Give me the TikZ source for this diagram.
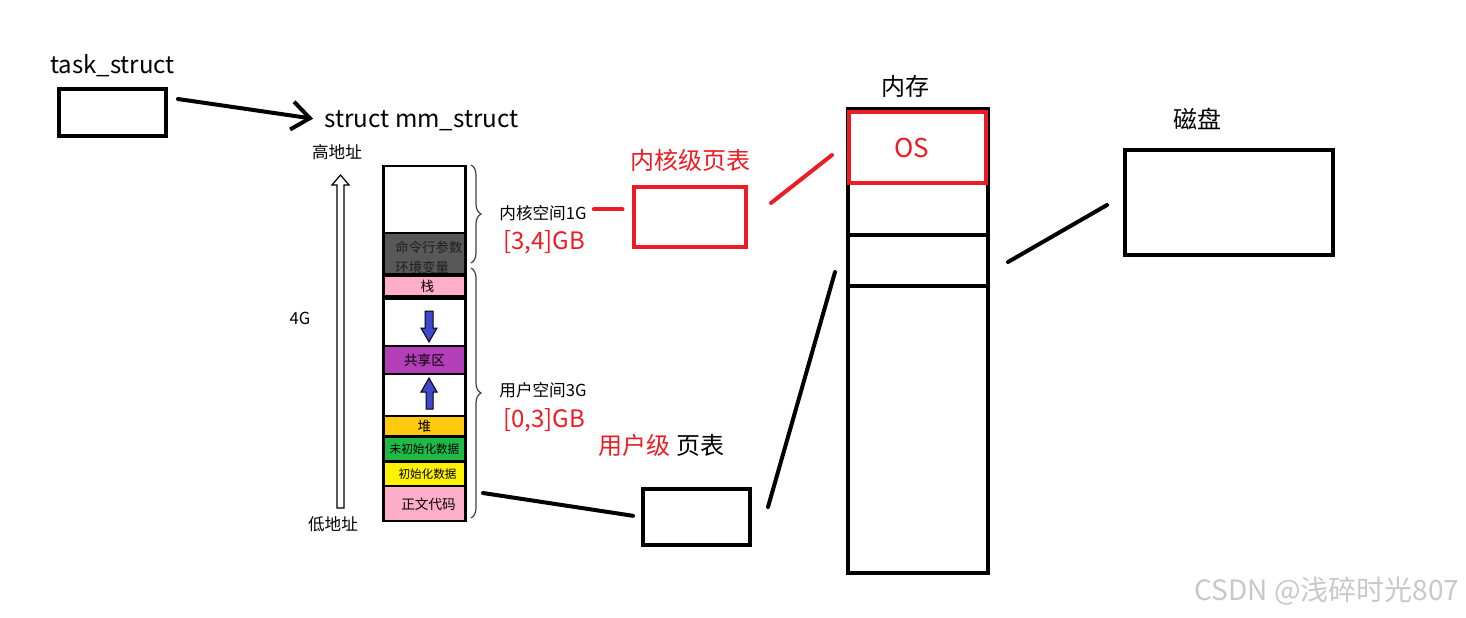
\documentclass[tikz,border=0pt]{standalone}
\usepackage{fontspec}
\setmainfont{Noto Sans CJK SC}
\usetikzlibrary{arrows.meta,positioning,decorations.pathreplacing}
\definecolor{pagered}{RGB}{237,28,36}
\definecolor{argsgray}{RGB}{88,88,88}
\definecolor{stackpink}{RGB}{255,174,201}
\definecolor{sharepurple}{RGB}{178,62,184}
\definecolor{heaporange}{RGB}{255,201,14}
\definecolor{bssgreen}{RGB}{30,185,70}
\definecolor{datayellow}{RGB}{255,242,0}
\definecolor{growblue}{RGB}{63,72,204}
\definecolor{markgray}{RGB}{200,200,200}

\begin{document}
\begin{tikzpicture}[x=0.5pt, y=-0.5pt,
  frame/.style={draw, line width=2pt, inner sep=0pt},
  redframe/.style={frame, draw=pagered},
  seg/.style={fill=#1, minimum width=39.5pt, inner sep=0pt, anchor=north,
              font=\fontsize{6.8}{7}\selectfont},
  titletext/.style={font=\fontsize{12}{14}\selectfont, inner sep=0pt},
  addrtext/.style={font=\fontsize{8.3}{10}\selectfont, inner sep=0pt},
  rangetext/.style={font=\fontsize{12}{14}\selectfont, text=pagered, inner sep=0pt},
  link/.style={line width=2pt, line cap=round},
  redlink/.style={link, draw=pagered},
  spanbrace/.style={decorate, decoration={brace, amplitude=5pt},
               draw=black!75, line width=0.6pt},
]
  \useasboundingbox (0,0) rectangle (1466,617);

  % task_struct
  \node[frame, minimum width=53.5pt, minimum height=23.5pt] (task) at (112.5,112.5) {};
  \node[titletext, above=5pt of task] (tasklabel) {task\_struct};
  \node[titletext, font=\fontsize{12.1}{14}\selectfont, anchor=base west] (mm) at (324,127) {struct mm\_struct};
  \coordinate (ptr) at (178,99);
  \draw[link, -{Straight Barb[length=9pt,width=14pt]}, shorten >=5.5pt] (ptr) -- (mm.west);

  % address direction
  \node[addrtext] (high) at (337,152) {高地址};
  \node[addrtext] (low) at (333,524) {低地址};
  \node[addrtext] (size) at (300,318) {4G};
  \draw[fill=white, line width=0.6pt] (337,508) -- (337,185) -- (332,185) -- (340.5,175)
    -- (349,185) -- (344,185) -- (344,508) -- cycle;

  % address space
  \node[fill=black, inner sep=0pt, minimum width=42.5pt, minimum height=178.5pt] (vm) at (424.5,343.5) {};
  \node[seg=white, minimum height=32.5pt] (kern) at (424.5,167) {};
  \node[seg=argsgray, minimum height=19.5pt] (args) at (424.5,234) {};
  \begin{scope}
    \clip (args.south west) rectangle (args.north east);
    \node[anchor=west, inner sep=0pt, text=black!88, font=\fontsize{6.7}{7}\selectfont] (argv) at (395,247) {命令行参数};
    \node[anchor=west, inner sep=0pt, text=black!88, font=\fontsize{6.7}{7}\selectfont] (envp) at (395,267) {环境变量};
  \end{scope}
  \node[seg=stackpink, minimum height=9pt] (stack) at (424.5,277) {\hspace*{3pt}栈};
  \node[seg=white, minimum height=22.5pt] (gapdown) at (424.5,300) {};
  \node[seg=sharepurple, minimum height=13pt] (share) at (424.5,347) {共享区};
  \node[seg=white, minimum height=20pt] (gapup) at (424.5,375) {};
  \node[seg=heaporange, minimum height=9pt] (heap) at (424.5,417) {堆};
  \node[seg=bssgreen, minimum height=11pt, font=\fontsize{5.8}{6}\selectfont] (bss) at (424.5,438) {未初始化数据};
  \node[seg=datayellow, minimum height=11pt, font=\fontsize{5.8}{6}\selectfont] (data) at (424.5,463) {\hspace*{3pt}初始化数据};
  \node[seg=stackpink, minimum height=16.5pt] (code) at (424.5,487) {\hspace*{4pt}正文代码};
  \draw[fill=growblue, line width=0.5pt] (425,311) -- (433,311) -- (433,328) -- (437,328)
    -- (429,342) -- (421,328) -- (425,328) -- cycle;
  \draw[fill=growblue, line width=0.5pt] (426,409) -- (433,409) -- (433,392) -- (437,392)
    -- (429,378) -- (421,392) -- (426,392) -- cycle;

  % kernel / user split
  \draw[spanbrace] (471,165) -- (471,263);
  \draw[spanbrace] (471,268) -- (471,518);
  \node[addrtext, anchor=west] (klabel) at (499,213) {内核空间1G};
  \node[rangetext] (krange) at (544,242) {[3,4]GB};
  \node[addrtext, anchor=west] (ulabel) at (499,390) {用户空间3G};
  \node[rangetext] (urange) at (544,420) {[0,3]GB};

  % page tables
  \node[redframe, minimum width=56pt, minimum height=30pt] (kpt) at (690,217) {};
  \node[titletext, text=pagered, above=6.5pt of kpt] (kptlabel) {内核级页表};
  \node[frame, minimum width=53.5pt, minimum height=28pt] (upt) at (696.5,517) {};
  \node[titletext, above=15pt of upt, xshift=-17.5pt] (uptlabel) {{\color{pagered}用户级} 页表};
  \coordinate (kl) at ([yshift=1.8pt]klabel.east);
  \draw[redlink, shorten <=3.5pt, shorten >=4.75pt] (kl) -- (kl -| kpt.west);
  \coordinate (codeend) at (483,493);
  \draw[link, shorten >=4pt] (codeend) -- (upt.west);

  % memory
  \node[frame, line width=1.8pt, minimum width=70pt, minimum height=232pt] (mem) at (918,341) {};
  \node[titletext, above=4.5pt of mem, xshift=-6.5pt] (memlabel) {内存};
  \draw[line width=1.8pt] (848,235) -- (988,235);
  \draw[line width=1.8pt] (848,286) -- (988,286);
  \node[redframe, minimum width=68.5pt, minimum height=35.5pt, text=pagered,
        font=\fontsize{13}{14}\selectfont] (os) at (917.5,147.5) {OS\hspace*{6pt}};
  \coordinate (k1) at (771,203);
  \coordinate (k2) at (832,155);
  \draw[redlink] (k1) -- (k2);
  \coordinate (u1) at (768,507);
  \coordinate (u2) at (835,272);
  \draw[link] (u1) -- (u2);

  % disk
  \node[frame, minimum width=104pt, minimum height=52.5pt] (disk) at (1229,202.5) {};
  \node[titletext, above=9pt of disk, xshift=-16pt] (disklabel) {磁盘};
  \coordinate (d1) at (1008,262);
  \coordinate (d2) at (1107,205);
  \draw[link] (d1) -- (d2);

  \node[text=markgray, font=\fontsize{14}{16}\selectfont] (mark) at (1327,591) {CSDN @浅碎时光807};
\end{tikzpicture}
\end{document}
